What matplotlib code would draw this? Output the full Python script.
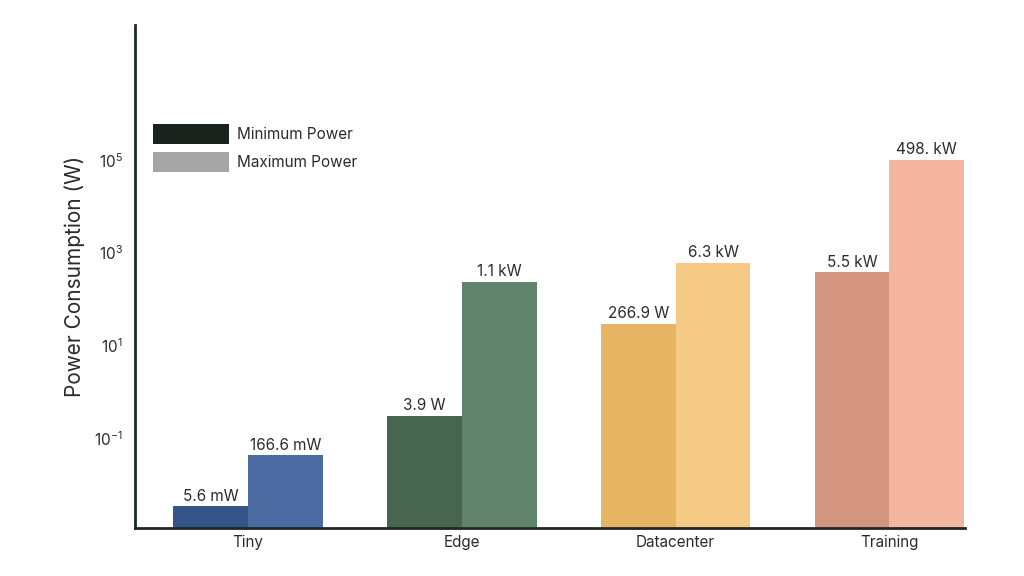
import numpy as np
import matplotlib
matplotlib.use("Agg")
import matplotlib.pyplot as plt
from matplotlib.patches import Patch

plt.rcParams["font.family"] = ["Inter", "DejaVu Sans"]
plt.rcParams["mathtext.default"] = "regular"

# datos
categorias = ["Tiny", "Edge", "Datacenter", "Training"]
potencia_min = [0.0032, 0.30, 29.0, 375.0]
potencia_max = [0.042, 233.0, 600.0, 100000.0]
etiqueta_min = ["5.6 mW", "3.9 W", "266.9 W", "5.5 kW"]
etiqueta_max = ["166.6 mW", "1.1 kW", "6.3 kW", "498. kW"]
color_min = ["#35548a", "#48654f", "#e6b462", "#d39580"]
color_max = ["#4d6ba3", "#62836b", "#f5ca84", "#f4b5a1"]

TXT = "#2b2b2b"
EJE = "#1b2a21"

fig = plt.figure(figsize=(10.24, 5.76), dpi=100)
ax = fig.add_axes([0.132, 0.083, 0.810, 0.874])

x = np.arange(len(categorias))
w = 0.35
b1 = ax.bar(x - w / 2, potencia_min, w, color=color_min, bottom=1e-4, linewidth=0)
b2 = ax.bar(x + w / 2, potencia_max, w, color=color_max, bottom=1e-4, linewidth=0)
ax.set_yscale("log")
ax.set_ylim(10 ** -2.95, 10 ** 7.92)
ax.set_xlim(-0.528, 3.352)

ax.bar_label(b1, labels=etiqueta_min, padding=2, fontsize=11, color=TXT)
ax.bar_label(b2, labels=etiqueta_max, padding=2, fontsize=11, color=TXT)

ax.set_yticks([1e-1, 1e1, 1e3, 1e5])
ax.set_yticklabels([r"$10^{-1}$", r"$10^{1}$", r"$10^{3}$", r"$10^{5}$"])
ax.minorticks_off()
ax.set_xticks(x)
ax.set_xticklabels(categorias)
ax.tick_params(length=0, labelsize=11, colors=TXT, pad=5)
ax.tick_params(axis="y", pad=9)
ax.set_ylabel("Power Consumption (W)", fontsize=15, color=TXT, labelpad=7)

for sp in ("top", "right"):
    ax.spines[sp].set_visible(False)
for sp in ("left", "bottom"):
    ax.spines[sp].set_color(EJE)
    ax.spines[sp].set_linewidth(2)

handles = [Patch(facecolor="#18211a", label="Minimum Power"),
           Patch(facecolor="#a5a5a5", label="Maximum Power")]
ax.legend(handles=handles, loc="upper left", bbox_to_anchor=(0.005, 0.83),
          frameon=False, fontsize=11, handlelength=5.0, handleheight=1.6,
          handletextpad=0.5, labelspacing=0.55, labelcolor=TXT)

fig.savefig("out.png", dpi=100)
